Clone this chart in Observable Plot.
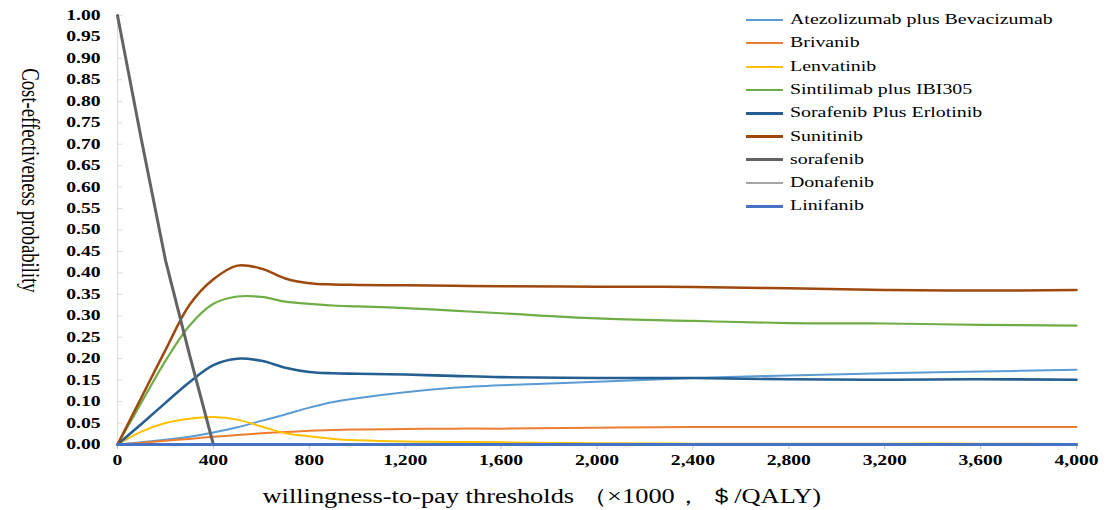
<!DOCTYPE html>
<html>
<head>
<meta charset="utf-8">
<script src="https://cdn.jsdelivr.net/npm/d3@7"></script>
<script src="https://cdn.jsdelivr.net/npm/@observablehq/plot@0.6"></script>
<style>
  html, body { margin: 0; padding: 0; background: #fff; }
  #chart { position: relative; width: 1109px; height: 510px; }
  #legend { position: absolute; left: 746px; top: 0; font-family: "Liberation Serif", serif; font-size: 14px; color: #000; }
  .row { position: absolute; left: 0; height: 20px; width: 360px; }
  .sw { position: absolute; left: 0; width: 37px; }
  .lab { position: absolute; left: 44px; top: 3px; line-height: 14px; white-space: nowrap; transform: scaleX(1.42); transform-origin: 0 50%; }
</style>
</head>
<body>
<div id="chart"><div id="legend"></div></div>
<script>
// ---- data ----
const thresholds = [0, 100, 200, 300, 400, 500, 600, 700, 800, 900, 1000, 1200, 1400, 1600, 2000, 2400, 2800, 3200, 3600, 4000];

const atezolizumab       = [0, 0.005, 0.011, 0.018, 0.028, 0.040, 0.055, 0.070, 0.086, 0.099, 0.108, 0.122, 0.132, 0.138, 0.146, 0.155, 0.161, 0.166, 0.170, 0.174];
const brivanib           = [0, 0.004, 0.009, 0.013, 0.018, 0.022, 0.026, 0.029, 0.032, 0.034, 0.035, 0.036, 0.037, 0.037, 0.039, 0.041, 0.041, 0.041, 0.041, 0.041];
const lenvatinib         = [0, 0.030, 0.050, 0.060, 0.064, 0.058, 0.042, 0.026, 0.019, 0.013, 0.010, 0.007, 0.006, 0.005, 0.003, 0.002, 0.002, 0.002, 0.002, 0.001];
const sintilimab         = [0, 0.098, 0.195, 0.277, 0.328, 0.345, 0.344, 0.333, 0.328, 0.324, 0.322, 0.318, 0.312, 0.306, 0.294, 0.288, 0.283, 0.282, 0.279, 0.277];
const sorafenibErlotinib = [0, 0.048, 0.097, 0.145, 0.185, 0.200, 0.195, 0.179, 0.169, 0.166, 0.165, 0.163, 0.160, 0.157, 0.155, 0.155, 0.152, 0.151, 0.152, 0.151];
const sunitinib          = [0, 0.110, 0.220, 0.325, 0.385, 0.417, 0.410, 0.387, 0.376, 0.373, 0.372, 0.371, 0.370, 0.369, 0.368, 0.367, 0.364, 0.360, 0.359, 0.360];
const sorafenib          = [1.00, 0.71, 0.43, 0.21, 0, 0, 0, 0, 0, 0, 0, 0, 0, 0, 0, 0, 0, 0, 0, 0];
const donafenib          = [0, 0, 0, 0, 0, 0, 0, 0, 0, 0, 0, 0, 0, 0, 0, 0, 0, 0, 0, 0];
const linifanib          = [0, 0, 0, 0, 0, 0, 0, 0, 0, 0, 0, 0, 0, 0, 0, 0, 0, 0, 0, 0];

const seriesNames  = ["Atezolizumab plus Bevacizumab", "Brivanib", "Lenvatinib", "Sintilimab plus IBI305", "Sorafenib Plus Erlotinib", "Sunitinib", "sorafenib", "Donafenib", "Linifanib"];
const seriesValues = [atezolizumab, brivanib, lenvatinib, sintilimab, sorafenibErlotinib, sunitinib, sorafenib, donafenib, linifanib];
const seriesColors = ["#5B9BD5", "#ED7D31", "#FFC000", "#70AD47", "#255E91", "#9E480E", "#636363", "#A5A5A5", "#4472C4"];
const seriesWidths = [2, 2, 2, 2.2, 2.6, 2.5, 3, 2, 3];

const xTicks = [0, 400, 800, 1200, 1600, 2000, 2400, 2800, 3200, 3600, 4000];
const yTicks = [0, 0.05, 0.10, 0.15, 0.20, 0.25, 0.30, 0.35, 0.40, 0.45, 0.50, 0.55, 0.60, 0.65, 0.70, 0.75, 0.80, 0.85, 0.90, 0.95, 1.00];

const xLabel = "willingness-to-pay thresholds （×1000， ＄/QALY)";
const yLabel = "Cost-effectiveness probability";

// ---- build ----
const serif = "'Liberation Serif', 'Times New Roman', serif";
const lineMarks = seriesNames.map((name, k) =>
  Plot.line(thresholds.map((x, i) => ({x, y: seriesValues[k][i], name})), {
    x: "x", y: "y",
    stroke: seriesColors[k],
    strokeWidth: seriesWidths[k],
    curve: name === "sorafenib" ? "linear" : "catmull-rom"
  })
);

const chart = Plot.plot({
  width: 1109,
  height: 510,
  marginLeft: 117,
  marginRight: 33,
  marginTop: 15,
  marginBottom: 66,
  style: {background: "#fff", color: "#000", fontFamily: serif},
  x: {domain: [0, 4000]},
  y: {domain: [0, 1]},
  marks: [
    Plot.ruleX([0], {stroke: "#d9d9d9"}),
    Plot.axisY({ticks: yTicks, tickSize: 5, dx: 5, stroke: "#d9d9d9", tickFormat: () => "", label: null}),
    Plot.axisY({ticks: yTicks, tickSize: 0, tickPadding: 17, tickFormat: d3.format(".2f"), label: null,
                fontFamily: serif, fontSize: 14, fontWeight: "bold"}),
    Plot.axisX({ticks: xTicks, tickSize: 5, stroke: "#bfbfbf", tickPadding: 6, tickFormat: d3.format(","), label: null,
                fontFamily: serif, fontSize: 14, fontWeight: "bold"}),
    Plot.ruleY([0], {stroke: "#d9d9d9"}),
    ...lineMarks,
    Plot.text([yLabel], {frameAnchor: "top-left", textAnchor: "middle", lineAnchor: "middle", dx: -87, dy: 165, rotate: 90, fontSize: 18.7, fontFamily: serif}),
    Plot.text([xLabel], {frameAnchor: "bottom-left", textAnchor: "start", lineAnchor: "middle", dx: 145, dy: 52, fontSize: 20, fontFamily: serif})
  ]
});

const holder = document.getElementById("chart");
holder.insertBefore(chart, holder.firstChild);

// horizontally widen the texts like the reference
function stretch(el, f) {
  const len = el.getComputedTextLength();
  if (len > 0) {
    el.setAttribute("textLength", (len * f).toFixed(1));
    el.setAttribute("lengthAdjust", "spacingAndGlyphs");
  }
}
const svg = d3.select(chart);
svg.selectAll('g[aria-label="x-axis tick label"] text').each(function() { stretch(this, 1.4); });
svg.selectAll('g[aria-label="y-axis tick label"] text').each(function() { stretch(this, 1.4); });
svg.selectAll("text").filter(function() { return this.textContent === xLabel; }).each(function() { stretch(this, 1.32); });
svg.selectAll("text").filter(function() { return this.textContent === yLabel; }).each(function() {
  const t = this.getAttribute("transform") || "";
  this.setAttribute("transform", t + " scale(1,1.4)");
});

// legend
const legend = d3.select("#legend");
seriesNames.forEach((name, k) => {
  const cy = 20 + 23.3 * k;
  const row = legend.append("div").attr("class", "row").style("top", (cy - 10) + "px");
  const w = seriesWidths[k] >= 2.5 ? 3 : 2;
  row.append("div").attr("class", "sw")
    .style("top", (10 - w / 2) + "px").style("height", w + "px").style("background", seriesColors[k]);
  row.append("div").attr("class", "lab").text(name);
});
</script>
</body>
</html>
